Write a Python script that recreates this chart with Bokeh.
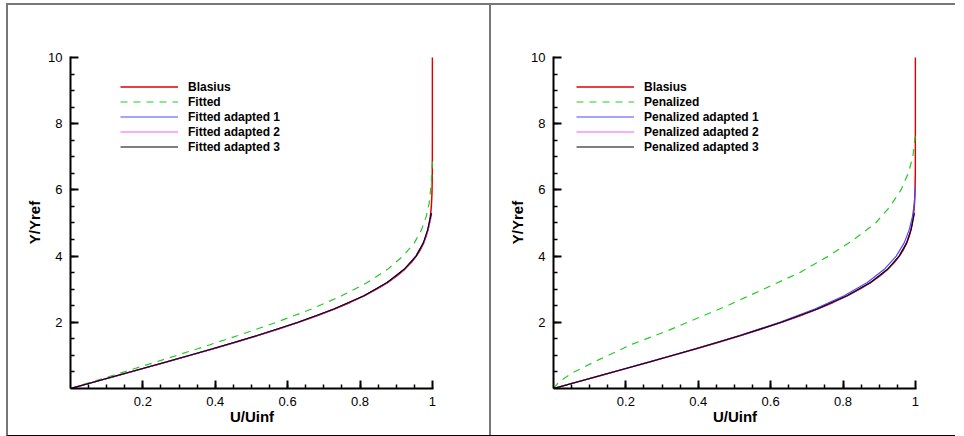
from bokeh.plotting import figure
from bokeh.models import Range1d, FixedTicker, CustomJSTickFormatter, Legend, LegendItem
from bokeh.layouts import row
from bokeh.embed import file_html
from bokeh.resources import INLINE

# ---------------- data ----------------
blasius_y = [0, 0.2, 0.4, 0.6, 0.8, 1.0, 1.2, 1.4, 1.6, 1.8, 2.0, 2.2, 2.4, 2.6, 2.8, 3.0,
             3.2, 3.4, 3.6, 3.8, 4.0, 4.2, 4.4, 4.6, 4.8, 5.0, 5.2, 5.4, 5.6, 5.8, 6.0,
             6.5, 7.0, 8.0, 10.0]
blasius_u = [0, 0.0664, 0.1328, 0.1989, 0.2647, 0.3298, 0.3938, 0.4563, 0.5168, 0.5748,
             0.6298, 0.6813, 0.7290, 0.7725, 0.8115, 0.8461, 0.8761, 0.9018, 0.9233, 0.9411,
             0.9555, 0.9670, 0.9759, 0.9827, 0.9878, 0.9916, 0.9943, 0.9962, 0.9975, 0.9984,
             0.9990, 0.9997, 0.9999, 1.0, 1.0]

fitted_y = [0, 0.4, 0.8, 1.2, 1.6, 2.0, 2.4, 2.8, 3.2, 3.6, 4.0, 4.4, 4.8, 5.2, 5.6, 6.0, 6.4, 6.9]
fitted_u = [0, 0.118, 0.236, 0.351, 0.463, 0.569, 0.666, 0.749, 0.820, 0.876, 0.919, 0.950,
            0.970, 0.983, 0.991, 0.995, 0.998, 1.0]

left_ad1_y = [0, 0.4, 0.8, 1.2, 1.6, 2.0, 2.4, 2.8, 3.2, 3.6, 4.0, 4.4, 4.8, 5.3]
left_ad1_u = [0, 0.134, 0.266, 0.395, 0.518, 0.630, 0.729, 0.811, 0.875, 0.922, 0.954, 0.975, 0.988, 0.998]
left_ad2_y = [0, 0.4, 0.8, 1.2, 1.6, 2.0, 2.4, 2.8, 3.2, 3.6, 4.0, 4.4, 4.8, 5.2]
left_ad2_u = [0, 0.133, 0.265, 0.394, 0.517, 0.630, 0.729, 0.812, 0.876, 0.923, 0.955, 0.976, 0.988, 0.997]
left_ad3_y = [0, 0.4, 0.8, 1.2, 1.6, 2.0, 2.4, 2.8, 3.2, 3.6, 4.0, 4.4, 4.8, 5.3]
left_ad3_u = [0, 0.132, 0.264, 0.393, 0.516, 0.629, 0.728, 0.811, 0.875, 0.922, 0.955, 0.975, 0.987, 0.997]

penal_y = [0, 0.2, 0.46, 0.88, 1.34, 1.73, 2.0, 2.5, 3.0, 3.5, 4.0, 4.5, 5.0, 5.5, 6.0, 6.5, 7.0, 7.7]
penal_u = [0, 0.015, 0.05, 0.127, 0.218, 0.312, 0.37, 0.48, 0.58, 0.68, 0.76, 0.83, 0.89, 0.93,
           0.96, 0.98, 0.993, 1.0]

right_ad1_y = [0, 0.4, 0.8, 1.2, 1.6, 2.0, 2.4, 2.8, 3.2, 3.6, 4.0, 4.4, 4.8, 5.2, 5.6, 6.1]
right_ad1_u = [0, 0.132, 0.263, 0.392, 0.514, 0.625, 0.722, 0.803, 0.867, 0.914, 0.947, 0.969,
               0.983, 0.992, 0.997, 1.0]
right_ad2_y = [0, 0.4, 0.8, 1.2, 1.6, 2.0, 2.4, 2.8, 3.2, 3.6, 4.0, 4.4, 4.8, 5.3]
right_ad2_u = [0, 0.134, 0.266, 0.395, 0.518, 0.631, 0.730, 0.812, 0.876, 0.923, 0.955, 0.975, 0.987, 0.997]
right_ad3_y = [0, 0.4, 0.8, 1.2, 1.6, 2.0, 2.4, 2.8, 3.2, 3.6, 4.0, 4.4, 4.8, 5.3]
right_ad3_u = [0, 0.133, 0.265, 0.394, 0.517, 0.630, 0.729, 0.811, 0.876, 0.923, 0.955, 0.976, 0.988, 0.997]

x_ticks = [0.2, 0.4, 0.6, 0.8, 1.0]
x_minor = [0.05 * i for i in range(1, 20)]
y_ticks = [2, 4, 6, 8, 10]
y_minor = [0.5 * i for i in range(1, 20)]

left_labels = ["Blasius", "Fitted", "Fitted adapted 1", "Fitted adapted 2", "Fitted adapted 3"]
right_labels = ["Blasius", "Penalized", "Penalized adapted 1", "Penalized adapted 2", "Penalized adapted 3"]

COLORS = ["#e00000", "#22cc22", "#4a4aff", "#ff55ff", "#000000"]
FONT = "Liberation Sans"


def make_panel(width, left, right, series, labels, leg_x):
    p = figure(width=width, height=430, x_range=Range1d(0, 1.003), y_range=Range1d(0, 10.03),
               output_backend="svg", toolbar_location=None,
               min_border_left=left, min_border_right=right,
               min_border_top=51, min_border_bottom=47)
    p.outline_line_color = None
    p.grid.visible = False
    p.background_fill_color = "white"
    p.border_fill_color = "white"

    for ax in (p.xaxis[0], p.yaxis[0]):
        ax.axis_line_width = 2
        ax.major_tick_line_width = 2
        ax.minor_tick_line_width = 1.5
        ax.major_tick_in = 8
        ax.major_tick_out = 0
        ax.minor_tick_in = 4
        ax.minor_tick_out = 0
        ax.major_label_text_font = FONT
        ax.major_label_text_font_size = "13px"
        ax.major_label_text_color = "black"
        ax.axis_label_text_font = FONT
        ax.axis_label_text_font_style = "bold"
        ax.axis_label_text_font_size = "15px"
        ax.axis_label_text_color = "black"
        ax.formatter = CustomJSTickFormatter(code="return tick.toString();")

    p.xaxis[0].ticker = FixedTicker(ticks=x_ticks, minor_ticks=x_minor)
    p.yaxis[0].ticker = FixedTicker(ticks=y_ticks, minor_ticks=y_minor)
    p.xaxis[0].axis_label = "U/Uinf"
    p.yaxis[0].axis_label = "Y/Yref"
    p.xaxis[0].major_label_standoff = 8
    p.xaxis[0].axis_label_standoff = -1
    p.yaxis[0].major_label_standoff = 8
    p.yaxis[0].axis_label_standoff = 2

    items = []
    for i, (xs, ys) in enumerate(series):
        kw = dict(line_color=COLORS[i], line_width=1.5 if i == 0 else 1.2)
        if i == 1:
            kw["line_dash"] = "7 6"
        r = p.line(xs, ys, **kw)
        items.append(LegendItem(label=labels[i], renderers=[r]))

    leg = Legend(items=items, location=(leg_x, 329 - 21 - 77 + 3))
    leg.border_line_color = None
    leg.background_fill_alpha = 0
    leg.padding = 0
    leg.margin = 0
    leg.spacing = 0
    leg.glyph_width = 58
    leg.glyph_height = 15
    leg.label_height = 15
    leg.label_standoff = 10
    leg.label_text_font = FONT
    leg.label_text_font_style = "bold"
    leg.label_text_font_size = "12px"
    leg.label_text_color = "black"
    p.add_layout(leg)
    return p


left_series = [(blasius_u, blasius_y), (fitted_u, fitted_y), (left_ad1_u, left_ad1_y),
               (left_ad2_u, left_ad2_y), (left_ad3_u, left_ad3_y)]
right_series = [(blasius_u, blasius_y), (penal_u, penal_y), (right_ad1_u, right_ad1_y),
                (right_ad2_u, right_ad2_y), (right_ad3_u, right_ad3_y)]

p1 = make_panel(483, 62, 58, left_series, left_labels, 50)
p2 = make_panel(464, 62, 39, right_series, right_labels, 23)
p1.styles = {"border-right": "2px solid #777"}

layout = row(p1, p2, styles={"border-top": "2px solid #777", "border-left": "2px solid #777",
                             "border-bottom": "1px solid #000",
                             "margin-left": "6px", "margin-top": "3px"})

open("out.html", "w").write(file_html(layout, INLINE))
